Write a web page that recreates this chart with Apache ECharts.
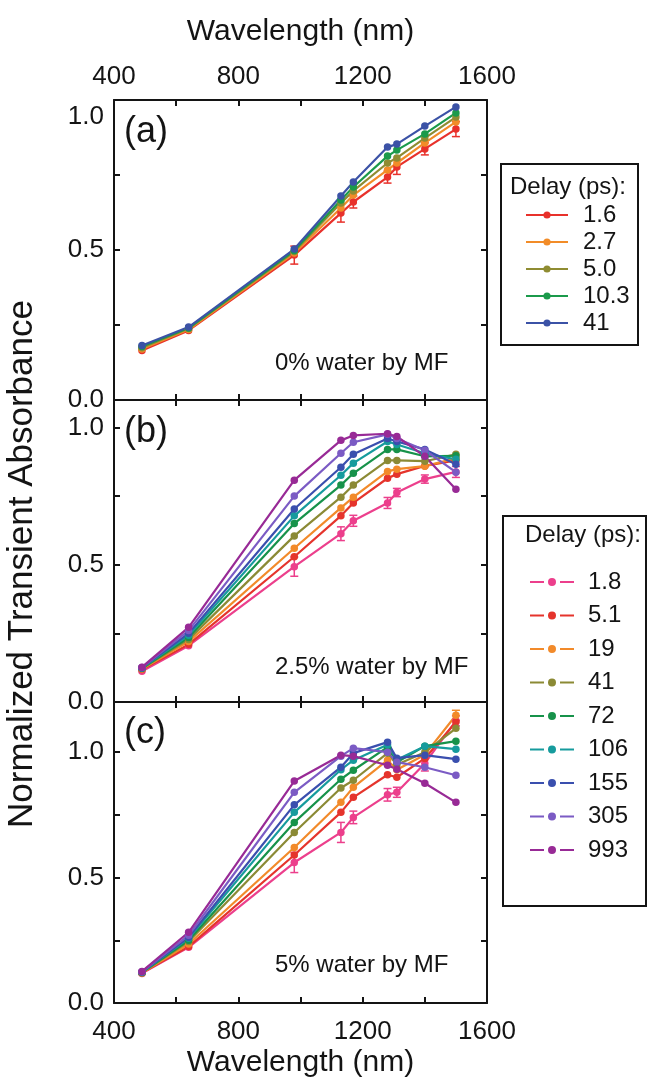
<!DOCTYPE html>
<html><head><meta charset="utf-8">
<script src="https://cdn.jsdelivr.net/npm/echarts@6/dist/echarts.min.js"></script>
<style>html,body{margin:0;padding:0;background:#fff}#c{width:648px;height:1082px}</style>
</head><body><div id="c"></div>
<script>
// ---------- data ----------
const wavelengths = [490, 640, 980, 1130, 1170, 1280, 1310, 1400, 1500];
const xTickLabels = [400, 800, 1200, 1600];
const yTickLabels = [0, 0.5, 1.0];

// panel (a): 0% water
const delaysA = ['1.6', '2.7', '5.0', '10.3', '41'];
const a_1_6  = [0.165, 0.232, 0.483, 0.623, 0.660, 0.743, 0.777, 0.837, 0.903];
const a_2_7  = [0.170, 0.235, 0.490, 0.640, 0.683, 0.767, 0.790, 0.857, 0.927];
const a_5_0  = [0.174, 0.238, 0.495, 0.657, 0.697, 0.790, 0.807, 0.873, 0.943];
const a_10_3 = [0.178, 0.240, 0.498, 0.667, 0.710, 0.813, 0.833, 0.887, 0.957];
const a_41   = [0.182, 0.243, 0.503, 0.680, 0.727, 0.843, 0.853, 0.913, 0.977];
const errA_1_6 = [0, 0, 0.030, 0.030, 0.020, 0.020, 0.025, 0.020, 0.025];

// panels (b), (c)
const delaysBC = ['1.8', '5.1', '19', '41', '72', '106', '155', '305', '993'];
// (b) 2.5% water
const b_1_8 = [0.112, 0.205, 0.493, 0.613, 0.660, 0.725, 0.763, 0.812, 0.838];
const b_5_1 = [0.118, 0.210, 0.529, 0.678, 0.725, 0.815, 0.830, 0.860, 0.880];
const b_19  = [0.120, 0.220, 0.560, 0.707, 0.746, 0.840, 0.848, 0.859, 0.888];
const b_41  = [0.122, 0.228, 0.605, 0.746, 0.790, 0.880, 0.880, 0.877, 0.902];
const b_72  = [0.123, 0.235, 0.650, 0.790, 0.833, 0.920, 0.920, 0.895, 0.897];
const b_106 = [0.124, 0.243, 0.678, 0.826, 0.870, 0.949, 0.938, 0.906, 0.884];
const b_155 = [0.125, 0.250, 0.703, 0.855, 0.902, 0.960, 0.949, 0.920, 0.866];
const b_305 = [0.126, 0.260, 0.750, 0.906, 0.946, 0.975, 0.960, 0.917, 0.837];
const b_993 = [0.127, 0.272, 0.808, 0.953, 0.971, 0.977, 0.967, 0.895, 0.775];
const errB_1_8 = [0, 0, 0.035, 0.025, 0.020, 0.020, 0.015, 0.015, 0.020];
// (c) 5% water
const c_1_8 = [0.118, 0.222, 0.560, 0.680, 0.740, 0.830, 0.840, 0.955, 1.125];
const c_5_1 = [0.120, 0.225, 0.590, 0.760, 0.820, 0.910, 0.900, 0.975, 1.120];
const c_19  = [0.120, 0.235, 0.620, 0.800, 0.860, 0.968, 0.930, 0.990, 1.147];
const c_41  = [0.121, 0.245, 0.680, 0.857, 0.888, 0.996, 0.950, 1.000, 1.095];
const c_72  = [0.122, 0.250, 0.720, 0.892, 0.928, 1.020, 0.960, 1.024, 1.044];
const c_106 = [0.123, 0.258, 0.760, 0.930, 0.968, 1.030, 0.970, 1.024, 1.012];
const c_155 = [0.124, 0.262, 0.790, 0.940, 0.996, 1.040, 0.976, 0.988, 0.972];
const c_305 = [0.125, 0.270, 0.840, 0.984, 1.016, 1.000, 0.960, 0.940, 0.908];
const c_993 = [0.126, 0.282, 0.885, 0.988, 0.984, 0.948, 0.932, 0.876, 0.800];
const errC_1_8 = [0, 0, 0.040, 0.040, 0.025, 0.025, 0.020, 0.030, 0.020];
const errC_19  = [0, 0, 0, 0, 0, 0, 0, 0, 0.020];

const panelLabels = ['(a)', '(b)', '(c)'];
const panelNotes = ['0% water by MF', '2.5% water by MF', '5% water by MF'];
const yMax = [1.0, 1.1, 1.2];

// ---------- styles ----------
const colorsA = ['#e8312b', '#f28c28', '#8f8c32', '#1b9a4b', '#3b52a6'];
const colorsBC = ['#ec3f8c', '#e5342c', '#f28a2a', '#8b8a35', '#17924a', '#169b9d', '#3a4fae', '#7b5bc4', '#982a96'];
const FONT = "'Liberation Sans', Arial, Helvetica, sans-serif";
const INK = '#141414';

const grids = [
  {left: 114, top: 100, width: 373, height: 300},
  {left: 114, top: 400, width: 373, height: 302},
  {left: 114, top: 702, width: 373, height: 301}
];

const seriesA = [a_1_6, a_2_7, a_5_0, a_10_3, a_41];
const seriesB = [b_1_8, b_5_1, b_19, b_41, b_72, b_106, b_155, b_305, b_993];
const seriesC = [c_1_8, c_5_1, c_19, c_41, c_72, c_106, c_155, c_305, c_993];

const xAxes = [], yAxes = [];
grids.forEach((g, gi) => {
  ['bottom', 'top'].forEach(pos => {
    const showLab = (pos === 'top' && gi === 0) || (pos === 'bottom' && gi === 2);
    xAxes.push({
      gridIndex: gi, type: 'value', position: pos, min: 400, max: 1600, interval: 200,
      axisLine: {show: true, onZero: false, lineStyle: {color: INK, width: 2}},
      axisTick: {show: true, inside: true, length: 6, lineStyle: {color: INK, width: 2}},
      splitLine: {show: false},
      axisLabel: {
        show: showLab, fontSize: 26, fontFamily: FONT, color: INK,
        margin: pos === 'top' ? 10 : 16,
        formatter: v => xTickLabels.includes(v) ? String(v) : ''
      },
      name: showLab ? 'Wavelength (nm)' : '',
      nameLocation: 'middle', nameGap: pos === 'top' ? 53 : 45,
      nameTextStyle: {fontSize: 30, fontFamily: FONT, color: INK}
    });
  });
  ['left', 'right'].forEach(pos => {
    yAxes.push({
      gridIndex: gi, type: 'value', position: pos, min: 0, max: yMax[gi], interval: 0.25,
      axisLine: {show: true, onZero: false, lineStyle: {color: INK, width: 2}},
      axisTick: {show: true, inside: true, length: 6, lineStyle: {color: INK, width: 2}},
      splitLine: {show: false},
      axisLabel: {
        show: pos === 'left', fontSize: 26, fontFamily: FONT, color: INK, margin: 10,
        formatter: v => {
          const hit = yTickLabels.find(t => Math.abs(t - v) < 1e-6);
          if (hit === undefined) return '';
          if (gi === 0 && hit === 1) return '{lo|' + hit.toFixed(1) + '}';
          return hit.toFixed(1);
        },
        rich: {lo: {fontSize: 26, fontFamily: FONT, color: INK, padding: [34, 0, 0, 0]}}
      }
    });
  });
});

function lineSeries(gi, name, vals, color) {
  return {
    type: 'line', name: name, xAxisIndex: 2 * gi, yAxisIndex: 2 * gi,
    data: wavelengths.map((w, i) => [w, vals[i]]),
    symbol: 'circle', symbolSize: 7.5, showSymbol: true,
    lineStyle: {width: 2.2, color: color}, itemStyle: {color: color}, z: 3
  };
}
function errSeries(gi, vals, errs, color) {
  return {
    type: 'custom', xAxisIndex: 2 * gi, yAxisIndex: 2 * gi, silent: true, z: 2,
    data: wavelengths.map((w, i) => [w, vals[i], errs[i]]).filter(d => d[2] > 0),
    renderItem: (params, api) => {
      const x = api.value(0), y = api.value(1), e = api.value(2);
      const hi = api.coord([x, y + e]), lo = api.coord([x, y - e]);
      const cw = 4, st = {stroke: color, lineWidth: 1.5};
      return {type: 'group', children: [
        {type: 'line', shape: {x1: hi[0], y1: hi[1], x2: lo[0], y2: lo[1]}, style: st},
        {type: 'line', shape: {x1: hi[0] - cw, y1: hi[1], x2: hi[0] + cw, y2: hi[1]}, style: st},
        {type: 'line', shape: {x1: lo[0] - cw, y1: lo[1], x2: lo[0] + cw, y2: lo[1]}, style: st}
      ]};
    }
  };
}

const namesA = delaysA.map(d => 'a:' + d);
const namesBC = delaysBC.map(d => 'b:' + d);
const series = [];
series.push(errSeries(0, a_1_6, errA_1_6, colorsA[0]));
seriesA.forEach((v, i) => series.push(lineSeries(0, namesA[i], v, colorsA[i])));
series.push(errSeries(1, b_1_8, errB_1_8, colorsBC[0]));
seriesB.forEach((v, i) => series.push(lineSeries(1, namesBC[i], v, colorsBC[i])));
series.push(errSeries(2, c_1_8, errC_1_8, colorsBC[0]));
series.push(errSeries(2, c_19, errC_19, colorsBC[2]));
seriesC.forEach((v, i) => series.push(lineSeries(2, namesBC[i], v, colorsBC[i])));

const txt = (text, x, y, size, extra) => Object.assign({
  type: 'text', x: x, y: y, silent: true,
  style: Object.assign({text: text, font: size + 'px ' + FONT, fill: INK,
    align: 'left', verticalAlign: 'middle', textAlign: 'left', textVerticalAlign: 'middle'}, extra || {})
});

const graphic = [
  txt('Normalized Transient Absorbance', 22, 564, 35, {align: 'center', textAlign: 'center'}),
  {type: 'rect', shape: {x: 501, y: 164, width: 137, height: 181}, style: {fill: 'none', stroke: INK, lineWidth: 2}, silent: true},
  {type: 'rect', shape: {x: 503, y: 516, width: 143, height: 390}, style: {fill: 'none', stroke: INK, lineWidth: 2}, silent: true},
  txt('Delay (ps):', 510, 187, 24),
  txt('Delay (ps):', 525, 535, 24)
];
graphic[0].rotation = Math.PI / 2;
const labelY = [132, 432, 733];
const noteY = [363, 667, 965];
panelLabels.forEach((l, i) => graphic.push(txt(l, 124, labelY[i], 36)));
panelNotes.forEach((n, i) => graphic.push(txt(n, 275, noteY[i], 24)));

const chart = echarts.init(document.getElementById('c'), null, {renderer: 'canvas'});
chart.setOption({
  animation: false,
  backgroundColor: '#ffffff',
  grid: grids,
  xAxis: xAxes,
  yAxis: yAxes,
  legend: [
    {data: namesA, orient: 'vertical', left: 525, top: 203, padding: 0, itemGap: 3,
     itemWidth: 42, itemHeight: 9, selectedMode: false,
     formatter: n => n.slice(2),
     textStyle: {fontSize: 24, fontFamily: FONT, color: INK, padding: [0, 0, 0, 10]}},
    {data: namesBC, orient: 'vertical', left: 530, top: 570, padding: 0, itemGap: 9.5,
     itemWidth: 44, itemHeight: 8, selectedMode: false,
     icon: 'path://M0,4H14V6H0Z M26,5A4,4 0 1,1 18,5A4,4 0 1,1 26,5Z M30,4H44V6H30Z',
     formatter: n => n.slice(2),
     textStyle: {fontSize: 24, fontFamily: FONT, color: INK, padding: [0, 0, 0, 9]}}
  ],
  graphic: graphic,
  series: series
});
</script></body></html>
